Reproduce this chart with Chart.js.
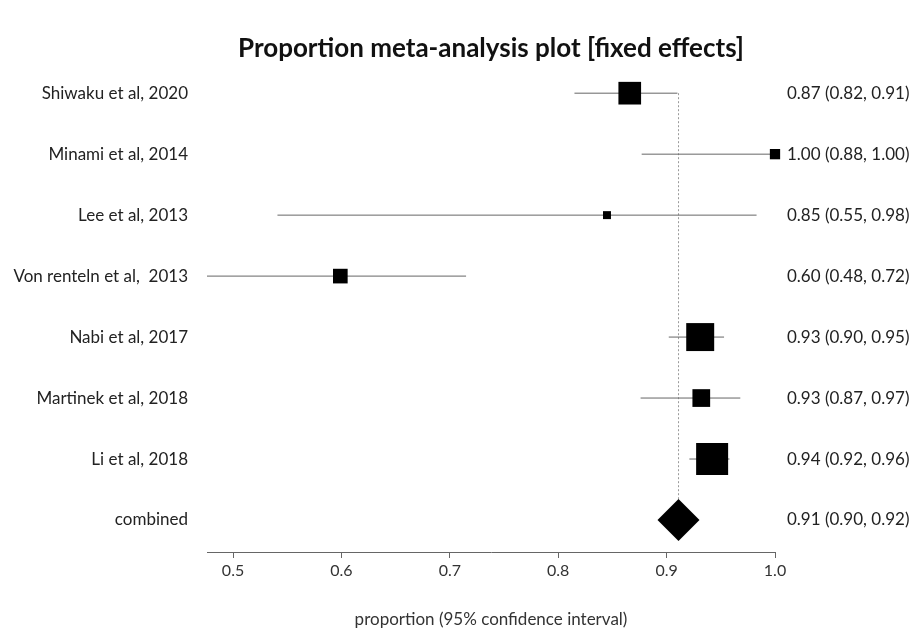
<!DOCTYPE html>
<html>
<head>
<meta charset="utf-8">
<title>Proportion meta-analysis plot</title>
<script src="https://cdn.jsdelivr.net/npm/chart.js@4.4.1/dist/chart.umd.min.js"></script>
<style>
  html, body { margin: 0; padding: 0; background: #fff; }
  #wrap { width: 914px; height: 630px; }
</style>
</head>
<body>
<div id="wrap"><canvas id="forestChart"></canvas></div>
<script>
const studies = [
  "Shiwaku et al, 2020",
  "Minami et al, 2014",
  "Lee et al, 2013",
  "Von renteln et al,  2013",
  "Nabi et al, 2017",
  "Martinek et al, 2018",
  "Li et al, 2018",
]
const estimates = [0.866, 1.0, 0.845, 0.599, 0.931, 0.932, 0.942]
const lower = [0.815, 0.877, 0.541, 0.476, 0.902, 0.876, 0.921]
const upper = [0.910, 1.0, 0.983, 0.715, 0.953, 0.968, 0.958]
// relative study weights (read from the square areas)
const weights = [17.0, 3.5, 2.1, 7.1, 25.9, 10.4, 33.9]
const results = [
  "0.87 (0.82, 0.91)",
  "1.00 (0.88, 1.00)",
  "0.85 (0.55, 0.98)",
  "0.60 (0.48, 0.72)",
  "0.93 (0.90, 0.95)",
  "0.93 (0.87, 0.97)",
  "0.94 (0.92, 0.96)",
]
const combinedName = "combined"
const combinedEstimate = 0.911
const combinedResult = "0.91 (0.90, 0.92)"
const xTicks = [0.5, 0.6, 0.7, 0.8, 0.9, 1.0]

const FONT = "Lato, 'Open Sans', sans-serif"
const rowNames = [...studies, combinedName]
const rowResults = [...results, combinedResult]

function squareRadius(w) {
  // square side scales with sqrt of weight, biggest box ~32px
  const maxW = Math.max(...weights)
  const side = Math.sqrt(w / maxW) * 32
  return side / Math.SQRT2
}

function rowTicks(scale) {
  scale.ticks = rowNames.map((_, i) => ({ value: i }))
}

function buildDatasets() {
  const boxes = {
    data: estimates.map((x, i) => ({ x: x, y: i })),
    pointStyle: "rect",
    pointRadius: weights.map(squareRadius),
    backgroundColor: "#000",
    borderColor: "#000",
    borderWidth: 0,
    showLine: false,
    clip: false,
  }
  const diamond = {
    data: [{ x: combinedEstimate, y: studies.length }],
    pointStyle: "rectRot",
    pointRadius: 21,
    backgroundColor: "#000",
    borderColor: "#000",
    borderWidth: 0,
    showLine: false,
    clip: false,
  }
  const ciLines = studies.map((s, i) => ({
    data: [{ x: lower[i], y: i }, { x: upper[i], y: i }],
    showLine: true,
    borderColor: "#666",
    borderWidth: 1,
    pointRadius: 0,
    clip: false,
  }))
  const refLine = {
    data: [{ x: combinedEstimate, y: 0 }, { x: combinedEstimate, y: studies.length }],
    showLine: true,
    borderColor: "#999",
    borderWidth: 1,
    borderDash: [2, 2],
    pointRadius: 0,
  }
  return [boxes, diamond, ...ciLines, refLine]
}

const yRange = { min: -0.377, max: 7.525 }

new Chart(document.getElementById("forestChart"), {
  type: "scatter",
  data: { datasets: buildDatasets() },
  options: {
    responsive: true,
    maintainAspectRatio: false,
    animation: false,
    layout: { padding: 0 },
    plugins: {
      legend: { display: false },
      tooltip: { enabled: false },
      title: {
        display: true,
        fullSize: false,
        text: "Proportion meta-analysis plot [fixed effects]",
        color: "#111",
        font: { family: FONT, size: 26, weight: "bold" },
        padding: { top: 33, bottom: 6 },
      },
    },
    scales: {
      x: {
        type: "linear",
        position: "bottom",
        min: 0.476,
        max: 1.0,
        afterBuildTicks: (scale) => {
          scale.ticks = xTicks.map((v) => ({ value: v }))
        },
        afterFit: (scale) => {
          scale.height = 78
        },
        border: { display: true, color: "#666", width: 1 },
        grid: { drawOnChartArea: false, drawTicks: true, tickLength: 6, color: "#666" },
        ticks: {
          color: "#333",
          font: { family: FONT, size: 16 },
          padding: 3,
          callback: (v) => v.toFixed(1),
        },
        title: {
          display: true,
          text: "proportion (95% confidence interval)",
          color: "#333",
          font: { family: FONT, size: 17 },
          padding: { top: 0, bottom: 0 },
        },
      },
      y: {
        type: "linear",
        position: "left",
        reverse: true,
        min: yRange.min,
        max: yRange.max,
        afterBuildTicks: rowTicks,
        afterFit: (scale) => {
          scale.width = 207
        },
        border: { display: false },
        grid: { display: false, drawTicks: false },
        ticks: {
          color: "#222",
          font: { family: FONT, size: 17 },
          padding: 19,
          callback: (v) => rowNames[v],
        },
      },
      y2: {
        type: "linear",
        position: "right",
        reverse: true,
        min: yRange.min,
        max: yRange.max,
        afterBuildTicks: rowTicks,
        afterFit: (scale) => {
          scale.width = 139
        },
        border: { display: false },
        grid: { display: false, drawTicks: false },
        ticks: {
          color: "#222",
          font: { family: FONT, size: 17 },
          padding: 12,
          callback: (v) => rowResults[v],
        },
      },
    },
  },
})
</script>
</body>
</html>
